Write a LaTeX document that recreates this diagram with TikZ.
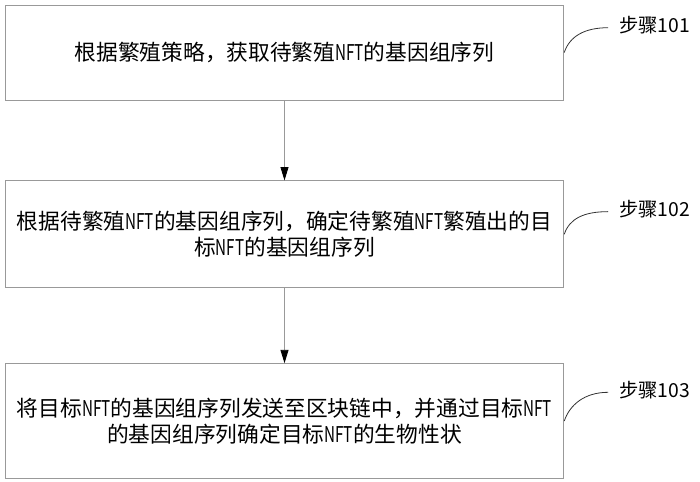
\documentclass[tikz,border=0pt]{standalone}
\usepackage{fontspec}
\setmainfont{Noto Sans CJK SC}
\usetikzlibrary{positioning,arrows.meta}
\newcommand{\nft}{\scalebox{0.7}[1]{NFT}}

\begin{document}
\begin{tikzpicture}[
    x=0.75pt, y=-0.75pt,
    node distance=60pt,
    stepbox/.style={rectangle, draw=black!40, line width=0.6pt, minimum width=419pt, align=center, inner sep=2pt, font=\fontsize{16.3pt}{19.5pt}\selectfont},
    steplabel/.style={inner sep=0pt, font=\fontsize{14.5pt}{17pt}\selectfont},
    arrow/.style={-{Triangle[length=10pt,width=6pt,color=black]}, draw=black!40, line width=0.6pt},
    leader/.style={draw=black!80, line width=0.6pt}
]
\useasboundingbox (0,0) rectangle (700,482);

\node[stepbox, minimum height=71.25pt] (s1) at (284.5,52.5) {根据繁殖策略，获取待繁殖\nft{}的基因组序列};
\node[stepbox, minimum height=80.25pt, below=60pt of s1] (s2) {根据待繁殖\nft{}的基因组序列，确定待繁殖\nft{}繁殖出的目\\标\nft{}的基因组序列};
\node[stepbox, minimum height=86.25pt, below=56.25pt of s2] (s3) {将目标\nft{}的基因组序列发送至区块链中，并通过目标\nft\\的基因组序列确定目标\nft{}的生物性状};

\node[steplabel, right=41pt of s1.east, yshift=20.6pt] (l1) {步骤101};
\node[steplabel, right=41pt of s2.east, yshift=19pt] (l2) {步骤102};
\node[steplabel, right=41pt of s3.east, yshift=23.6pt] (l3) {步骤103};

\draw[arrow] (s1) -- (s2);
\draw[arrow] (s2) -- (s3);

\draw[leader] (s1.east) .. controls +(4pt,12pt) and +(-18pt,0pt) .. ([shift={(-8pt,-2pt)}]l1.west);
\draw[leader] (s2.east) .. controls +(4pt,12pt) and +(-18pt,0pt) .. ([shift={(-8pt,-2pt)}]l2.west);
\draw[leader] (s3.east) .. controls +(4pt,12pt) and +(-18pt,0pt) .. ([shift={(-8pt,-2pt)}]l3.west);

\end{tikzpicture}
\end{document}
